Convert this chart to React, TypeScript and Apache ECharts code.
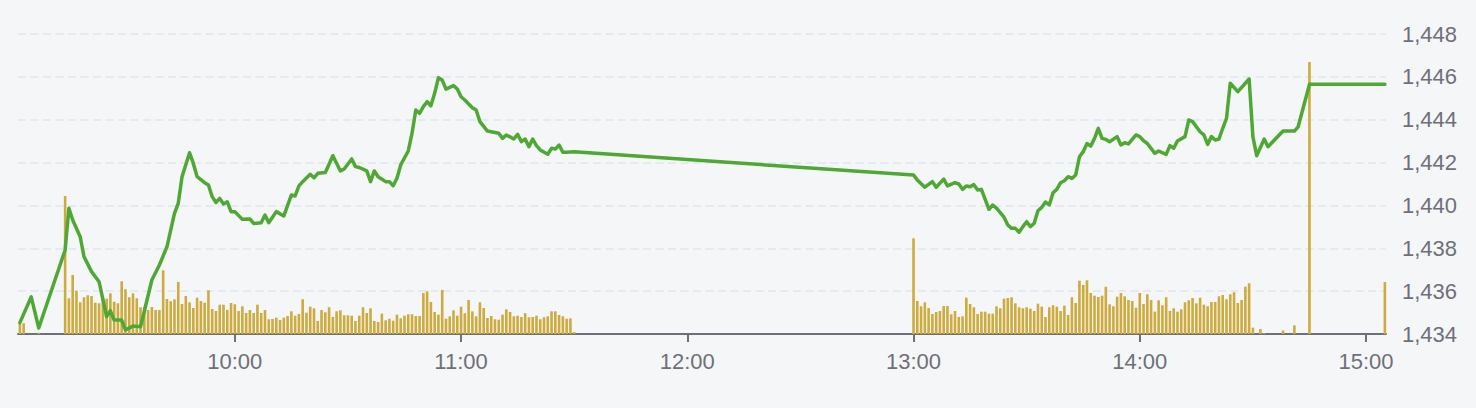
import React, { useEffect, useRef } from "react";
import * as echarts from "echarts";

// ---- Price line (time "HH:MM", value) ----
const morningPrices: [string, number][] = [
  ["09:03", 1434.53], ["09:06", 1435.73], ["09:08", 1434.28],
  ["09:15", 1437.92], ["09:16", 1439.87], ["09:17", 1439.32], ["09:19", 1438.54], ["09:20", 1437.61],
  ["09:22", 1436.91], ["09:24", 1436.44], ["09:26", 1434.81], ["09:27", 1435.09], ["09:28", 1434.65],
  ["09:30", 1434.65], ["09:31", 1434.19], ["09:33", 1434.37], ["09:35", 1434.34], ["09:38", 1436.52],
  ["09:40", 1437.22], ["09:42", 1438.07], ["09:43", 1438.85], ["09:44", 1439.63], ["09:45", 1440.10],
  ["09:46", 1441.34], ["09:48", 1442.46], ["09:49", 1441.96], ["09:50", 1441.34], ["09:52", 1441.06],
  ["09:53", 1440.95], ["09:54", 1440.41], ["09:55", 1440.14], ["09:56", 1440.33], ["09:57", 1440.07],
  ["09:58", 1440.17], ["09:59", 1439.71], ["10:00", 1439.71], ["10:02", 1439.35], ["10:04", 1439.37],
  ["10:05", 1439.16], ["10:07", 1439.19], ["10:08", 1439.55], ["10:09", 1439.19], ["10:11", 1439.71],
  ["10:13", 1439.51], ["10:15", 1440.49], ["10:16", 1440.44], ["10:17", 1440.91], ["10:18", 1441.11],
  ["10:20", 1441.45], ["10:21", 1441.29], ["10:22", 1441.50], ["10:24", 1441.54], ["10:26", 1442.32],
  ["10:28", 1441.61], ["10:29", 1441.70], ["10:31", 1442.17], ["10:32", 1441.81], ["10:33", 1441.77],
  ["10:35", 1441.61], ["10:36", 1441.11], ["10:37", 1441.61], ["10:38", 1441.34], ["10:40", 1441.11],
  ["10:41", 1441.11], ["10:42", 1440.92], ["10:43", 1441.27], ["10:44", 1441.89], ["10:46", 1442.54],
  ["10:47", 1443.37], ["10:48", 1444.45], ["10:49", 1444.30], ["10:50", 1444.61], ["10:51", 1444.84],
  ["10:52", 1444.65], ["10:53", 1445.23], ["10:54", 1445.96], ["10:55", 1445.85], ["10:56", 1445.43],
  ["10:58", 1445.59], ["10:59", 1445.43], ["11:00", 1445.07], ["11:01", 1444.92], ["11:03", 1444.56],
  ["11:04", 1444.45], ["11:05", 1443.91], ["11:07", 1443.47], ["11:08", 1443.44], ["11:10", 1443.37],
  ["11:11", 1443.13], ["11:12", 1443.29], ["11:14", 1443.10], ["11:15", 1443.32], ["11:16", 1442.98],
  ["11:17", 1443.10], ["11:18", 1442.74], ["11:19", 1443.10], ["11:20", 1442.79], ["11:21", 1442.59],
  ["11:23", 1442.39], ["11:24", 1442.67], ["11:25", 1442.63], ["11:26", 1442.82], ["11:27", 1442.48],
  ["11:28", 1442.48], ["11:30", 1442.50],
];

const afternoonPrices: [string, number][] = [
  ["13:00", 1441.42], ["13:01", 1441.19], ["13:03", 1440.85], ["13:05", 1441.11], ["13:06", 1440.85],
  ["13:08", 1441.23], ["13:09", 1440.91], ["13:11", 1441.06], ["13:12", 1441.00], ["13:13", 1440.75],
  ["13:14", 1440.91], ["13:15", 1440.87], ["13:16", 1440.97], ["13:17", 1440.72], ["13:18", 1440.75],
  ["13:20", 1439.82], ["13:21", 1440.02], ["13:22", 1439.87], ["13:24", 1439.45], ["13:25", 1439.09],
  ["13:26", 1438.93], ["13:27", 1438.93], ["13:28", 1438.75], ["13:29", 1439.01], ["13:30", 1439.24],
  ["13:31", 1439.01], ["13:32", 1439.17], ["13:33", 1439.75], ["13:34", 1439.91], ["13:35", 1440.16],
  ["13:36", 1440.02], ["13:37", 1440.59], ["13:38", 1440.75], ["13:39", 1441.06], ["13:40", 1441.15],
  ["13:41", 1441.34], ["13:42", 1441.26], ["13:43", 1441.42], ["13:44", 1442.27], ["13:45", 1442.51],
  ["13:46", 1442.89], ["13:47", 1442.77], ["13:48", 1443.13], ["13:49", 1443.60], ["13:50", 1443.13],
  ["13:51", 1443.08], ["13:52", 1442.97], ["13:54", 1443.21], ["13:55", 1442.82], ["13:56", 1442.93],
  ["13:57", 1442.87], ["13:59", 1443.29], ["14:00", 1443.21], ["14:01", 1443.02], ["14:02", 1442.89],
  ["14:04", 1442.43], ["14:05", 1442.54], ["14:07", 1442.38], ["14:08", 1442.79], ["14:09", 1442.67],
  ["14:10", 1443.01], ["14:12", 1443.21], ["14:13", 1443.99], ["14:14", 1443.91], ["14:16", 1443.44],
  ["14:17", 1443.29], ["14:18", 1442.85], ["14:19", 1443.21], ["14:20", 1443.05], ["14:21", 1443.10],
  ["14:22", 1443.60], ["14:23", 1444.06], ["14:24", 1445.70], ["14:26", 1445.31], ["14:29", 1445.90],
  ["14:30", 1443.21], ["14:31", 1442.32], ["14:33", 1443.10], ["14:34", 1442.74], ["14:38", 1443.47],
  ["14:41", 1443.47], ["14:42", 1443.67], ["14:45", 1445.65], ["15:05", 1445.65],
];

// ---- Volume bars ----
// one bar per minute from 09:15 to 11:30
const morningVolumeStart = "09:15";
const morningVolumes: number[] = [
  138, 35.7, 59, 43.3, 31.7, 36.7, 38.7, 38, 31.3, 30.7,
  35.7, 35.3, 40.7, 32.3, 30.7, 52.7, 44.7, 36.7, 40.7, 35.7,
  26.7, 27, 24, 27, 24, 24, 63.7, 35, 32.7, 34.7,
  52, 30, 38, 31.7, 26, 36.3, 33, 31.3, 43.7, 25,
  23, 29.3, 29.3, 24, 31, 29.7, 23, 27.7, 21, 24,
  21, 29.3, 21, 24, 14.7, 15, 16.3, 14, 16.3, 18,
  22.7, 18.3, 20,
  34.7, 21.3, 27.3, 25.7, 13, 24, 21.7, 26.7, 17, 22.7,
  23.7, 18.7, 18.7, 18.3, 13, 18.3, 26.7, 21, 25.7, 13,
  12, 20.3, 13.7, 15.3, 13.3, 19.3, 15.7, 18.3, 19.7, 19.7,
  18, 18, 41, 42.7, 32, 22, 19.3, 44, 15.3, 17.7,
  23.7, 18.3, 27.3, 20.7, 34, 22.7, 17.7, 31.7, 26, 16,
  18, 14.7, 14.3, 19.3, 24.7, 22, 17.7, 18.3, 17, 20.7,
  16.7, 17, 18.3, 14.7, 16.7, 17.7, 22.7, 22.7, 19, 17.7,
  15.3, 15.7, 2,
];
// one bar per minute from 13:00 to 14:30
const afternoonVolumeStart = "13:00";
const afternoonVolumes: number[] = [
  95.7, 33, 27.7, 31.7, 26, 20, 22, 23, 28, 28,
  19.7, 23, 17, 17.7, 36.3, 30, 26.7, 20, 22.3, 22.3,
  20.3, 20.3, 27.7, 25.7, 35.3, 36, 36.7, 30.7, 26.7, 25.7,
  26.7, 25.3, 23, 30.3, 27.3, 17, 26.7, 28.7, 27.3, 23,
  28.3, 19, 36.7, 31, 53.3, 49, 53.7, 41, 38.3, 37,
  38.3, 47.3, 29.7, 27.7, 37.3, 41, 37.7, 34, 33, 26.3,
  41, 30, 39.7, 34, 22.3, 33.7, 28.7, 36.7, 23, 25.7,
  22.3, 24.7, 31.7, 33.7, 36, 30.7, 36.3, 29.3, 27.7, 32,
  32, 37.7, 39, 34.7, 39.7, 41.7, 31, 34, 47.3, 50.7,
  6.3,
];
// scattered trades outside the regular sessions
const extraVolumes: [string, number][] = [
  ["09:03", 10.7], ["09:04", 10.7], ["09:08", 1.3],
  ["14:32", 5], ["14:33", 0.8], ["14:38", 3.5], ["14:41", 8.7],
  ["14:45", 272], ["15:05", 52],
];

// ---- Axes ----
const xTickLabels = ["10:00", "11:00", "12:00", "13:00", "14:00", "15:00"];
const xMin = "09:02:30";
const xMax = "15:05:18";
const yMin = 1434;
const yMax = 1448;
const yStep = 2;

const toMin = (s: string): number => {
  const p = s.split(":").map(Number);
  return p[0] * 60 + p[1] + (p[2] || 0) / 60;
};
const fmtMin = (v: number): string => {
  const h = Math.floor(v / 60);
  const m = Math.round(v - h * 60);
  return `${h}:${String(m).padStart(2, "0")}`;
};

export default function App() {
  const ref = useRef<HTMLDivElement>(null);

  useEffect(() => {
    if (!ref.current) return;
    const chart = echarts.init(ref.current, undefined, { renderer: "svg" });

    const lineData = [...morningPrices, ...afternoonPrices].map(([t, v]) => [toMin(t), v]);
    const barData: number[][] = [];
    extraVolumes.forEach(([t, v]) => barData.push([toMin(t), v]));
    morningVolumes.forEach((v, i) => barData.push([toMin(morningVolumeStart) + i, v]));
    afternoonVolumes.forEach((v, i) => barData.push([toMin(afternoonVolumeStart) + i, v]));
    barData.sort((a, b) => a[0] - b[0]);

    const tickVals = xTickLabels.map(toMin);
    const gray = "#6e7079";

    chart.setOption({
      animation: false,
      backgroundColor: "#f5f6f8",
      grid: { left: 18, right: 90, top: 34, bottom: 74, containLabel: false },
      xAxis: {
        type: "value",
        min: toMin(xMin),
        max: toMin(xMax),
        axisLine: { show: true, lineStyle: { color: gray, width: 2 } },
        axisTick: {
          show: true,
          customValues: tickVals,
          length: 8,
          lineStyle: { color: gray, width: 2 },
        },
        axisLabel: {
          customValues: tickVals,
          formatter: (v: number) => fmtMin(v),
          color: gray,
          fontSize: 22,
          fontFamily: "Liberation Sans, Arial, sans-serif",
          margin: 16,
        },
        splitLine: { show: false },
      },
      yAxis: [
        {
          type: "value",
          position: "right",
          min: yMin,
          max: yMax,
          interval: yStep,
          axisLine: { show: false },
          axisTick: { show: false },
          axisLabel: {
            color: gray,
            fontSize: 22,
            fontFamily: "Liberation Sans, Arial, sans-serif",
            margin: 16,
            formatter: (v: number) => v.toLocaleString("en-US"),
          },
          splitLine: {
            show: true,
            lineStyle: { color: "#e0e5ee", width: 1.5, type: [8, 4.5] },
          },
        },
        {
          type: "value",
          min: 0,
          max: 300,
          show: false,
          splitLine: { show: false },
        },
      ],
      series: [
        {
          type: "bar",
          yAxisIndex: 1,
          data: barData,
          barWidth: 2.6,
          itemStyle: { color: "#cdab3c" },
          z: 1,
        },
        {
          type: "line",
          yAxisIndex: 0,
          data: lineData,
          showSymbol: false,
          symbol: "none",
          lineStyle: { color: "#4ea833", width: 3.5, join: "round", cap: "round" },
          z: 2,
        },
      ],
    });

    return () => chart.dispose();
  }, []);

  return (
    <div
      ref={ref}
      style={{ position: "fixed", left: 0, top: 0, width: 1476, height: 408 }}
    />
  );
}
